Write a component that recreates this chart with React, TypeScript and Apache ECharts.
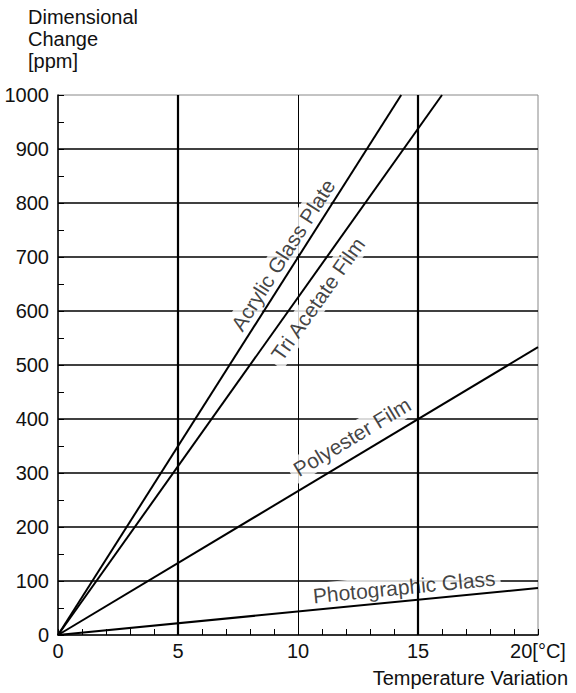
import React, { useEffect, useRef } from "react";
import * as echarts from "echarts";

// Data (temperature variation [°C] -> dimensional change [ppm])
const acrylicGlassPlate: number[][] = [[0, 0], [14.3, 1000]];
const triAcetateFilm: number[][] = [[0, 0], [16, 1000]];
const polyesterFilm: number[][] = [[0, 0], [20, 533]];
const photographicGlass: number[][] = [[0, 0], [20, 87]];

const seriesNames = ["Acrylic Glass Plate", "Tri Acetate Film", "Polyester Film", "Photographic Glass"];
// label anchors in data units (centre of each rotated label) and rotation (deg)
const labelAnchors: number[][] = [[9.38, 704], [10.83, 622], [12.25, 367], [14.42, 89]];
const labelAngles = [57.6, 54.6, 31, 5.6];

const xTicks = [0, 5, 10, 15, 20];
const yTicks = [0, 100, 200, 300, 400, 500, 600, 700, 800, 900, 1000];
const thickVerticals = [5, 15];

const FONT = "'Liberation Sans', Arial, Helvetica, sans-serif";
const FS = 20;
const LABEL_FS = 21;

export default function App() {
  const ref = useRef<HTMLDivElement>(null);
  useEffect(() => {
    if (!ref.current) return;
    const chart = echarts.init(ref.current, undefined, { renderer: "svg" });
    const lineStyle = { color: "#000", width: 2 };
    const dataSeries = [acrylicGlassPlate, triAcetateFilm, polyesterFilm, photographicGlass].map((d, i) => ({
      type: "line",
      name: seriesNames[i],
      data: d,
      symbol: "none",
      lineStyle,
      z: 3,
      silent: true,
    }));
    chart.setOption({
      animation: false,
      textStyle: { fontFamily: FONT },
      grid: {
        left: 58,
        right: 38,
        top: 95,
        bottom: 58,
        show: true,
        borderColor: "#888",
        borderWidth: 1,
      },
      xAxis: {
        type: "value",
        min: xTicks[0],
        max: xTicks[xTicks.length - 1],
        interval: 5,
        axisLine: { show: true, onZero: false, lineStyle: { color: "#000", width: 1.5 } },
        axisTick: { show: true, inside: true, length: 6, lineStyle: { color: "#000" } },
        minorTick: { show: true, splitNumber: 5, length: 6, lineStyle: { color: "#000", width: 1 } },
        splitLine: { show: true, showMinLine: false, showMaxLine: false, lineStyle: { color: "#000", width: 1 } },
        axisLabel: {
          fontSize: FS,
          color: "#111",
          margin: 6,
          fontFamily: FONT,
          formatter: (v: number) => (v === 20 ? "20[°C]" : String(v)),
        },
      },
      yAxis: {
        type: "value",
        min: yTicks[0],
        max: yTicks[yTicks.length - 1],
        interval: 100,
        axisLine: { show: true, onZero: false, lineStyle: { color: "#000", width: 1.5 } },
        axisTick: { show: true, inside: true, length: 6, lineStyle: { color: "#000" } },
        minorTick: { show: true, splitNumber: 2, length: 6, lineStyle: { color: "#000", width: 1 } },
        splitLine: { show: true, showMinLine: false, showMaxLine: false, lineStyle: { color: "#000", width: 1.5 } },
        axisLabel: { fontSize: FS, color: "#111", margin: 9, fontFamily: FONT, formatter: (v: number) => String(v) },
      },
      graphic: [
        {
          type: "text",
          left: 28,
          top: 6,
          style: {
            text: "Dimensional\nChange\n[ppm]",
            font: `${FS}px ${FONT}`,
            lineHeight: 22,
            fill: "#111",
          },
        },
        {
          type: "text",
          right: 8,
          top: 668,
          style: { text: "Temperature Variation", font: `${FS}px ${FONT}`, fill: "#111" },
        },
      ],
      series: [
        {
          type: "line",
          data: [],
          z: 1,
          silent: true,
          markLine: {
            symbol: "none",
            silent: true,
            label: { show: false },
            lineStyle: { color: "#000", width: 2.2, type: "solid" },
            data: thickVerticals.map((v) => ({ xAxis: v })),
          },
        },
        {
          type: "scatter",
          symbolSize: 0,
          z: 2,
          silent: true,
          data: labelAnchors.map((p, i) => ({
            value: p,
            label: {
              show: true,
              position: "inside",
              rotate: labelAngles[i],
              formatter: seriesNames[i],
              fontSize: LABEL_FS,
              fontFamily: FONT,
              color: "#111",
              align: "center",
              verticalAlign: "middle",
              backgroundColor: "#fff",
              padding: [2, 5],
            },
          })),
        },
        ...dataSeries,
      ],
    });
    return () => chart.dispose();
  }, []);
  return <div ref={ref} style={{ position: "absolute", left: 0, top: 0, width: 576, height: 693 }} />;
}
